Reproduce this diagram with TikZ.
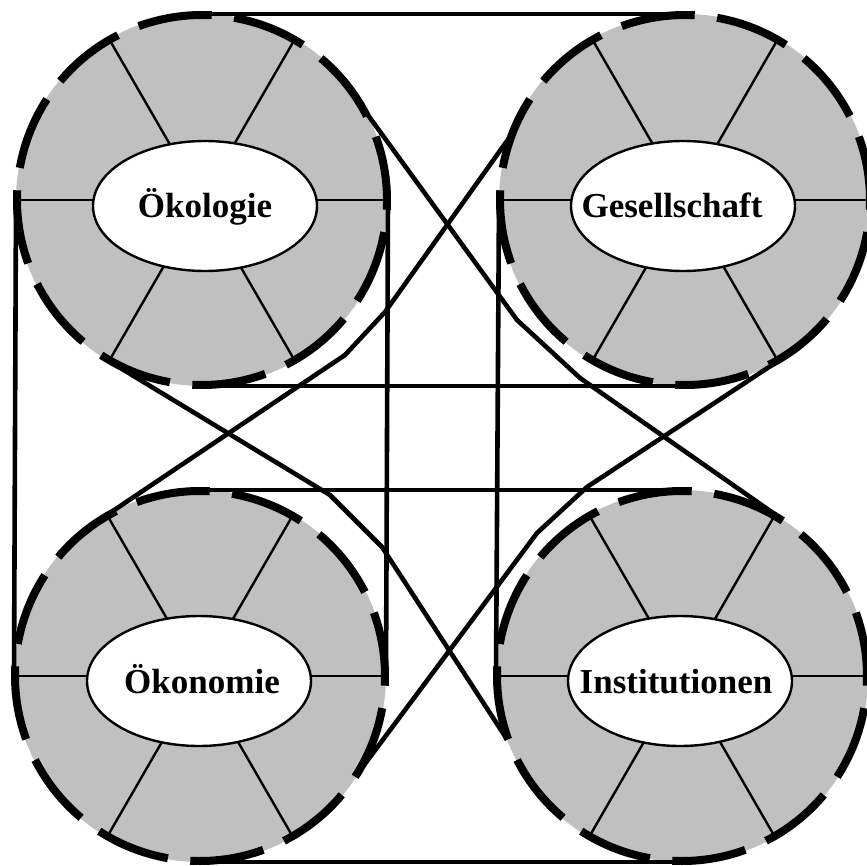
\documentclass[tikz,border=0pt]{standalone}
\usepackage{fontspec}
\setmainfont{Liberation Serif}
\usetikzlibrary{shapes.geometric}
\definecolor{discgray}{RGB}{192,192,192}
\tikzset{
  discnode/.style={circle, fill=discgray, draw=none, minimum size=372pt, inner sep=0pt, outer sep=0pt},
  spoke/.style={line width=2.4pt},
  hub/.style={ellipse, fill=white, draw, line width=2.4pt, minimum width=224pt, minimum height=130pt, inner sep=0pt},
  lbl/.style={anchor=base, inner sep=0pt, font=\fontsize{35}{40}\selectfont\bfseries},
  rim/.style={line width=8pt},
  link/.style={line width=4.6pt, line join=miter}
}
\begin{document}
\begin{tikzpicture}[x=1pt,y=-1pt]
\useasboundingbox (0,0) rectangle (866,866);
% discs, spokes
\foreach \n/\cx/\cy in {TL/202/200, TR/685/200, BL/200/676, BR/682/676}{
  \node[discnode] (\n) at (\cx,\cy) {};
  \foreach \a in {0,60,...,300}{
    \draw[spoke] (\n.center) -- (\n.\a);
  }
}
% hubs
\node[hub] (hTL) at (205,206) {};
\node[hub] (hTR) at (683,206) {};
\node[hub] (hBL) at (199,681) {};
\node[hub] (hBR) at (680,681) {};
\node[lbl] (tTL) at (205,218) {Ökologie};
\node[lbl] (tTR) at (672,218) {Gesellschaft};
\node[lbl] (tBL) at (202,693) {Ökonomie};
\node[lbl] (tBR) at (676,693) {Institutionen};
% dashed rims
\foreach \n in {TL,TR,BL,BR}{
  \foreach \k in {0,...,11}{
    \draw[rim] (\n.center) ++({-(57+30*\k)}:185) arc[start angle={-(57+30*\k)}, delta angle=-23, radius=185];
  }
}
% bend points
\coordinate (p1) at (517,320);
\coordinate (p2) at (580,378);
\coordinate (q1) at (385,312);
\coordinate (q2) at (345,355);
\coordinate (r1) at (330,495);
\coordinate (r2) at (382,547);
\coordinate (s1) at (587,487);
\coordinate (s2) at (537,533);
% connectors
\draw[link] (TL.north) -- (TR.north);
\draw[link] (TL.south) -- (TR.south);
\draw[link] (TL.west) -- (BL.west);
\draw[link] (TL.east) -- (BL.east);
\draw[link] (TR.west) -- (BR.west);
\draw[link] (BL.north) -- (BR.north);
\draw[link] (BL.south) -- (BR.south);
\draw[link] (TL.28) -- (p1) -- (p2) -- (BR.58);
\draw[link] (TR.160) -- (q1) -- (q2) -- (BL.120);
\draw[link] (TL.240) -- (r1) -- (r2) -- (BR.200);
\draw[link] (TR.300) -- (s1) -- (s2) -- (BL.330);
\end{tikzpicture}
\end{document}
